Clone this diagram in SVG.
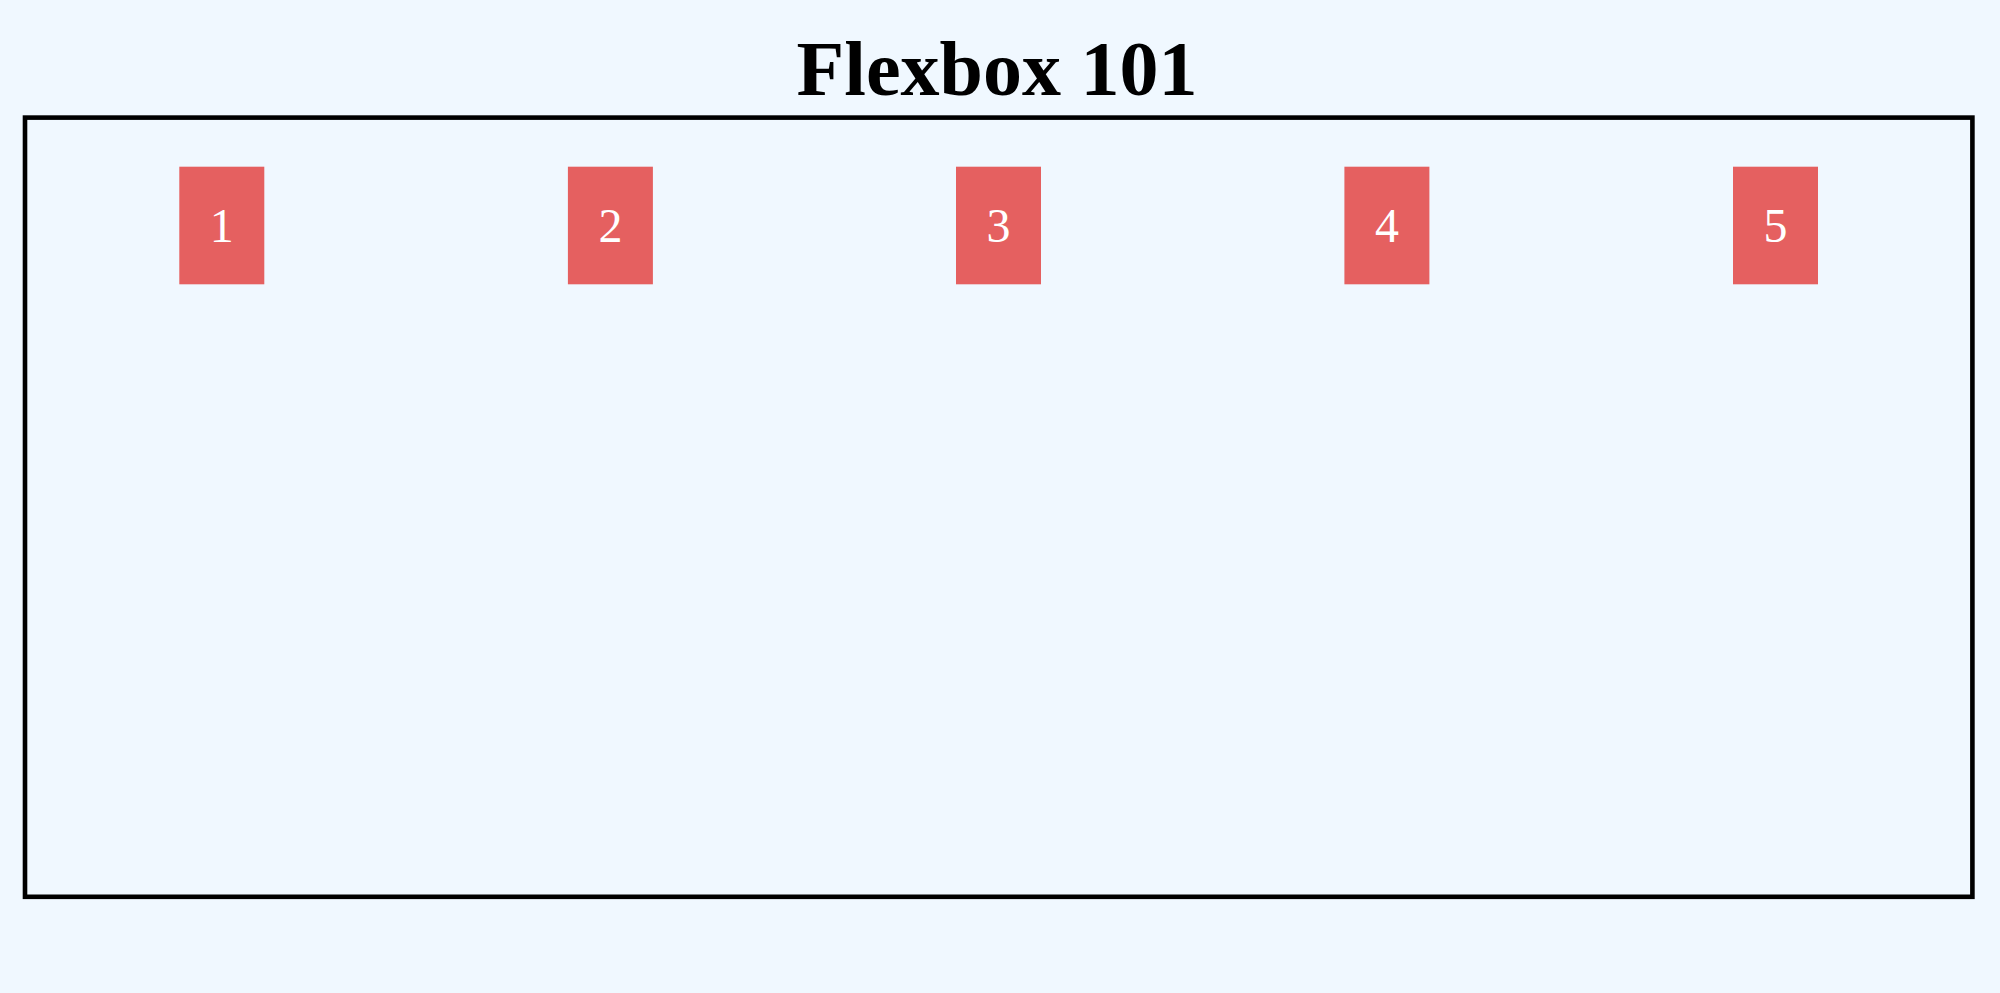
<svg xmlns="http://www.w3.org/2000/svg" width="2000" height="993" viewBox="0 0 2000 993">
<style>
.title{font-family:"Liberation Serif","Times New Roman",serif;font-weight:bold;font-size:78px;fill:#000;text-anchor:middle}
.item rect{fill:#e56060}
.item text{font-family:"Liberation Serif","Times New Roman",serif;font-size:48px;fill:#fff;text-anchor:middle}
.container{fill:none;stroke:#000;stroke-width:4.6}
</style>
<rect width="2000" height="993" fill="#f0f8ff"/>
<text class="title" x="997" y="95.3">Flexbox 101</text>
<g id="container"><rect class="container" x="25" y="117.6" width="1947.4" height="779.2"/></g>
<g id="connectors"/>
<g id="item1" class="item"><rect x="179.3" y="166.7" width="85" height="117.6"/><text x="221.8" y="242">1</text></g>
<g id="item2" class="item"><rect x="567.9" y="166.7" width="85" height="117.6"/><text x="610.4" y="242">2</text></g>
<g id="item3" class="item"><rect x="956" y="166.7" width="85" height="117.6"/><text x="998.5" y="242">3</text></g>
<g id="item4" class="item"><rect x="1344.4" y="166.7" width="85" height="117.6"/><text x="1386.9" y="242">4</text></g>
<g id="item5" class="item"><rect x="1733" y="166.7" width="85" height="117.6"/><text x="1775.5" y="242">5</text></g>
</svg>
